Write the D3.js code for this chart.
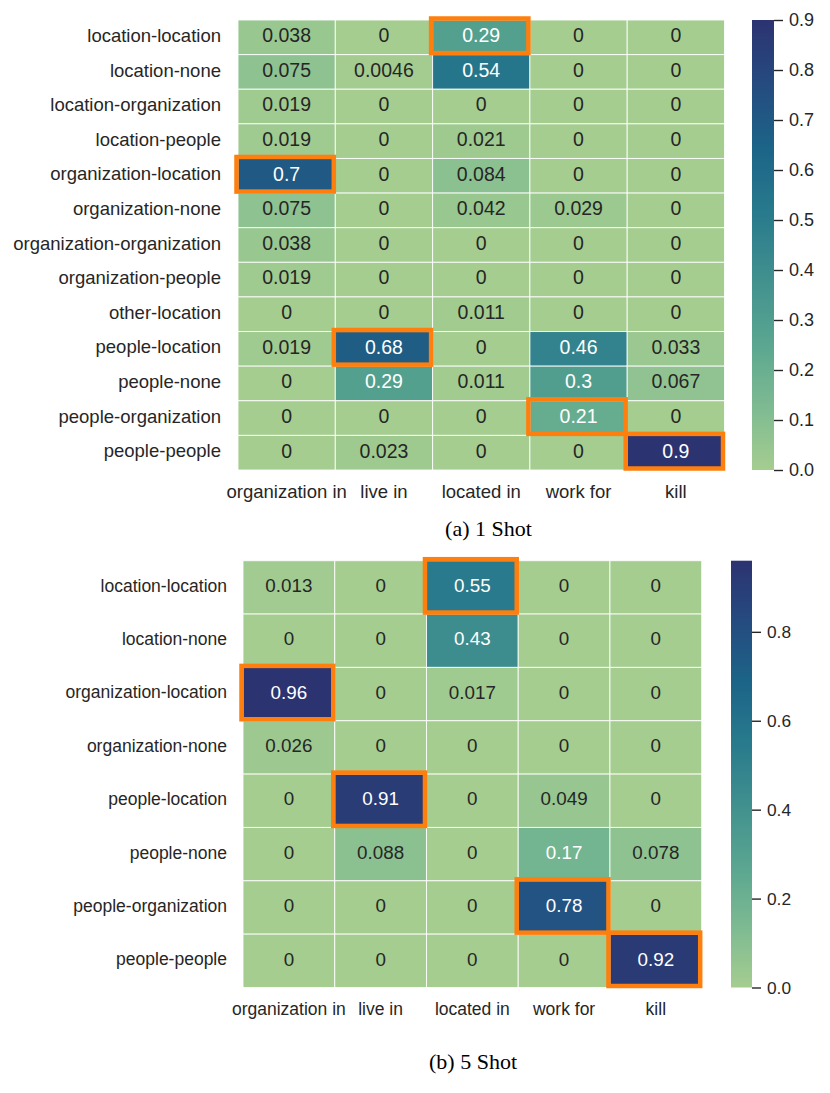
<!DOCTYPE html>
<html>
<head>
<meta charset="utf-8">
<script src="https://cdn.jsdelivr.net/npm/d3@7"></script>
<style>
  html, body { margin: 0; padding: 0; background: #fff; }
  svg { display: block; }
</style>
</head>
<body>
<svg id="chart" width="830" height="1093"></svg>
<script>
// ---------- DATA ----------
const relations = ["organization in", "live in", "located in", "work for", "kill"];

const rows1 = ["location-location", "location-none", "location-organization", "location-people",
  "organization-location", "organization-none", "organization-organization", "organization-people",
  "other-location", "people-location", "people-none", "people-organization", "people-people"];
const values1 = [
  [0.038, 0, 0.29, 0, 0],
  [0.075, 0.0046, 0.54, 0, 0],
  [0.019, 0, 0, 0, 0],
  [0.019, 0, 0.021, 0, 0],
  [0.7, 0, 0.084, 0, 0],
  [0.075, 0, 0.042, 0.029, 0],
  [0.038, 0, 0, 0, 0],
  [0.019, 0, 0, 0, 0],
  [0, 0, 0.011, 0, 0],
  [0.019, 0.68, 0, 0.46, 0.033],
  [0, 0.29, 0.011, 0.3, 0.067],
  [0, 0, 0, 0.21, 0],
  [0, 0.023, 0, 0, 0.9]
];
const highlights1 = [[0, 2], [4, 0], [9, 1], [11, 3], [12, 4]];
const ticks1 = [0.0, 0.1, 0.2, 0.3, 0.4, 0.5, 0.6, 0.7, 0.8, 0.9];
const vmax1 = 0.9;
const caption1 = "(a) 1 Shot";

const rows2 = ["location-location", "location-none", "organization-location", "organization-none",
  "people-location", "people-none", "people-organization", "people-people"];
const values2 = [
  [0.013, 0, 0.55, 0, 0],
  [0, 0, 0.43, 0, 0],
  [0.96, 0, 0.017, 0, 0],
  [0.026, 0, 0, 0, 0],
  [0, 0.91, 0, 0.049, 0],
  [0, 0.088, 0, 0.17, 0.078],
  [0, 0, 0, 0.78, 0],
  [0, 0, 0, 0, 0.92]
];
const highlights2 = [[0, 2], [2, 0], [4, 1], [6, 3], [7, 4]];
const ticks2 = [0.0, 0.2, 0.4, 0.6, 0.8];
const vmax2 = 0.96;
const caption2 = "(b) 5 Shot";

// seaborn "crest" colormap stops
const crestStops = ["#a5cd90", "#7dba91", "#59a590", "#40908e", "#287a8c", "#1c6488", "#254b7f", "#2c3371"];
const crest = d3.piecewise(d3.interpolateRgb, crestStops);

// ---------- DRAW ----------
const svg = d3.select("#chart");
const defs = svg.append("defs");
const SANS = "'Liberation Sans', Arial, Helvetica, sans-serif";
const SERIF = "'Liberation Serif', 'Times New Roman', serif";
const TXT = "#262626";

function luminance(c) {
  const rgb = d3.rgb(c);
  const f = v => { v /= 255; return v <= 0.03928 ? v / 12.92 : Math.pow((v + 0.055) / 1.055, 2.4); };
  return 0.2126 * f(rgb.r) + 0.7152 * f(rgb.g) + 0.0722 * f(rgb.b);
}

function heatmap(cfg) {
  const g = svg.append("g");
  const x = d3.scaleBand().domain(relations).range([cfg.x0, cfg.x1]).padding(0);
  const y = d3.scaleBand().domain(cfg.rows).range([cfg.y0, cfg.y1]).padding(0);
  const color = d3.scaleSequential(crest).domain([0, cfg.vmax]).clamp(true);

  const cells = [];
  cfg.values.forEach((r, i) => r.forEach((v, j) => cells.push({ row: cfg.rows[i], col: relations[j], v })));

  g.selectAll("rect.cell").data(cells).join("rect")
    .attr("class", "cell")
    .attr("x", d => x(d.col)).attr("y", d => y(d.row))
    .attr("width", x.bandwidth()).attr("height", y.bandwidth())
    .attr("fill", d => color(d.v))
    .attr("stroke", "rgba(255,255,255,0.85)").attr("stroke-width", 1);

  g.selectAll("text.annot").data(cells).join("text")
    .attr("class", "annot")
    .attr("x", d => x(d.col) + x.bandwidth() / 2)
    .attr("y", d => y(d.row) + y.bandwidth() / 2 + 0.25 * cfg.annotSize)
    .attr("text-anchor", "middle")
    .attr("font-family", SANS).attr("font-size", cfg.annotSize)
    .attr("fill", d => luminance(color(d.v)) > 0.408 ? TXT : "#ffffff")
    .text(d => String(d.v));

  // highlight boxes
  g.selectAll("rect.hl").data(cfg.highlights).join("rect")
    .attr("class", "hl")
    .attr("x", d => x(relations[d[1]]) - 1.5)
    .attr("y", d => y(cfg.rows[d[0]]) - 1.5)
    .attr("width", x.bandwidth()).attr("height", y.bandwidth())
    .attr("fill", "none").attr("stroke", "#ff7f0e").attr("stroke-width", 4.5);

  // y labels
  g.selectAll("text.ylab").data(cfg.rows).join("text")
    .attr("class", "ylab")
    .attr("x", cfg.x0 - cfg.labelGap)
    .attr("y", d => y(d) + y.bandwidth() / 2 + 0.25 * cfg.labelSize)
    .attr("text-anchor", "end")
    .attr("font-family", SANS).attr("font-size", cfg.labelSize).attr("fill", TXT)
    .text(d => d);

  // x labels
  g.selectAll("text.xlab").data(relations).join("text")
    .attr("class", "xlab")
    .attr("x", d => x(d) + x.bandwidth() / 2)
    .attr("y", cfg.xLabelY)
    .attr("text-anchor", "middle")
    .attr("font-family", SANS).attr("font-size", cfg.labelSize).attr("fill", TXT)
    .text(d => d);

  // colorbar
  const gid = "grad" + cfg.id;
  const grad = defs.append("linearGradient").attr("id", gid)
    .attr("x1", 0).attr("y1", 1).attr("x2", 0).attr("y2", 0);
  d3.range(0, 1.0001, 0.02).forEach(t => {
    grad.append("stop").attr("offset", t).attr("stop-color", crest(t));
  });
  g.append("rect")
    .attr("x", cfg.cbX).attr("y", cfg.cbY0)
    .attr("width", cfg.cbW).attr("height", cfg.cbY1 - cfg.cbY0)
    .attr("fill", `url(#${gid})`);
  const cy = d3.scaleLinear().domain([0, cfg.vmax]).range([cfg.cbY1, cfg.cbY0]);
  const axis = d3.axisRight(cy).tickValues(cfg.ticks).tickFormat(d3.format(".1f"))
    .tickSize(9).tickPadding(6);
  const ag = g.append("g").attr("transform", `translate(${cfg.cbX + cfg.cbW},0)`).call(axis);
  ag.select(".domain").remove();
  ag.selectAll(".tick line").attr("stroke", TXT).attr("stroke-width", 1.4);
  ag.selectAll(".tick text").attr("font-family", SANS).attr("font-size", cfg.cbFont).attr("fill", TXT);

  // caption
  g.append("text")
    .attr("x", cfg.capX).attr("y", cfg.capY)
    .attr("text-anchor", "middle")
    .attr("font-family", SERIF).attr("font-size", 22).attr("fill", "#000")
    .text(cfg.caption);
}

heatmap({
  id: 1, rows: rows1, values: values1, highlights: highlights1, vmax: vmax1, ticks: ticks1, caption: caption1,
  x0: 238, x1: 724.5, y0: 20, y1: 470,
  annotSize: 19.5, labelSize: 18.5, labelGap: 17, xLabelY: 498,
  cbX: 752, cbW: 22, cbY0: 20, cbY1: 470, cbFont: 18,
  capX: 488.5, capY: 536
});

heatmap({
  id: 2, rows: rows2, values: values2, highlights: highlights2, vmax: vmax2, ticks: ticks2, caption: caption2,
  x0: 243, x1: 701.7, y0: 560.7, y1: 987.5,
  annotSize: 18.8, labelSize: 17.5, labelGap: 16, xLabelY: 1015,
  cbX: 731, cbW: 21, cbY0: 560.7, cbY1: 987.5, cbFont: 17.3,
  capX: 473, capY: 1069
});
</script>
</body>
</html>
